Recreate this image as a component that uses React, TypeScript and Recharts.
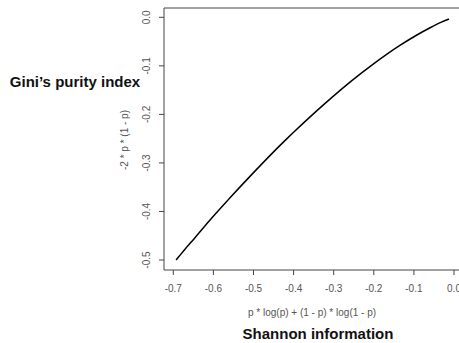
import React from 'react';
import { LineChart, Line, XAxis, YAxis, ReferenceLine } from 'recharts';

const shannon = [-0.693, -0.688, -0.673, -0.647, -0.611, -0.562, -0.5, -0.423, -0.404, -0.325, -0.254, -0.199, -0.135, -0.098, -0.056, -0.0315, -0.0125];
const gini = [-0.5, -0.495, -0.48, -0.455, -0.42, -0.375, -0.32, -0.255, -0.24, -0.18, -0.13, -0.095, -0.058, -0.039, -0.02, -0.01, -0.0035];
const xTicks = [-0.7, -0.6, -0.5, -0.4, -0.3, -0.2, -0.1, 0.0];
const yTicks = [-0.5, -0.4, -0.3, -0.2, -0.1, 0.0];
const xLabel = 'p * log(p) + (1 - p) * log(1 - p)';
const yLabel = '-2 * p * (1 - p)';
const xTitle = 'Shannon information';
const yTitle = 'Gini\u2019s purity index';

const data = shannon.map((x, i) => ({ x, y: gini[i] }));

const FONT = '"Liberation Sans", Arial, sans-serif';
const TXT = '#555';
const BOX = '#444';
const xDomain: [number, number] = [-0.7232, 0.0274];
const yDomain: [number, number] = [-0.5206, 0.0192];

const fmt = (v: number) => (Math.abs(v) < 1e-9 ? '0.0' : v.toFixed(1));

const XTick = (props: any) => {
  const { x, y, payload } = props;
  return (
    <text x={x} y={y} dy="0.71em" textAnchor="middle" fill={TXT} fontSize={10} fontFamily={FONT}>
      {fmt(payload.value)}
    </text>
  );
};

const YTick = (props: any) => {
  const { x, y, payload } = props;
  return (
    <text
      x={x}
      y={y}
      dy="0.35em"
      transform={`rotate(-90, ${x}, ${y})`}
      textAnchor="middle"
      fill={TXT}
      fontSize={10}
      fontFamily={FONT}
    >
      {fmt(payload.value)}
    </text>
  );
};

const abs = (left: number, top: number, extra: React.CSSProperties = {}): React.CSSProperties => ({
  position: 'absolute',
  left,
  top,
  transform: 'translate(-50%, -50%)',
  whiteSpace: 'nowrap',
  fontFamily: FONT,
  lineHeight: 1,
  ...extra,
});

export default function App() {
  return (
    <div style={{ position: 'absolute', left: 0, top: 0, width: 459, height: 343, overflow: 'hidden', background: '#fff' }}>
      <LineChart width={470} height={343} data={data} margin={{ top: 8, right: 5, bottom: 43, left: 124 }}>
        <XAxis
          dataKey="x"
          type="number"
          domain={xDomain}
          allowDataOverflow
          ticks={xTicks}
          interval={0}
          height={30}
          tickSize={5}
          tickMargin={10}
          tick={<XTick />}
          axisLine={{ stroke: BOX, strokeWidth: 1 }}
          tickLine={{ stroke: BOX, strokeWidth: 1 }}
        />
        <YAxis
          dataKey="y"
          type="number"
          domain={yDomain}
          allowDataOverflow
          ticks={yTicks}
          interval={0}
          width={40}
          tickSize={5}
          tickMargin={12}
          tick={<YTick />}
          axisLine={{ stroke: BOX, strokeWidth: 1 }}
          tickLine={{ stroke: BOX, strokeWidth: 1 }}
        />
        <ReferenceLine y={yDomain[1]} stroke={BOX} strokeWidth={1} ifOverflow="visible" />
        <ReferenceLine x={xDomain[1]} stroke={BOX} strokeWidth={1} ifOverflow="visible" />
        <Line
          type="monotone"
          dataKey="y"
          stroke="#000"
          strokeWidth={1.5}
          dot={false}
          isAnimationActive={false}
        />
      </LineChart>
      <div style={abs(75, 81, { fontSize: 15, fontWeight: 'bold', color: '#111' })}>{yTitle}</div>
      <div style={abs(318, 333, { fontSize: 15, fontWeight: 'bold', color: '#111' })}>{xTitle}</div>
      <div style={abs(312, 313, { fontSize: 10, color: TXT })}>{xLabel}</div>
      <div style={abs(125, 140, { fontSize: 10, color: TXT, transform: 'translate(-50%, -50%) rotate(-90deg)' })}>{yLabel}</div>
    </div>
  );
}
